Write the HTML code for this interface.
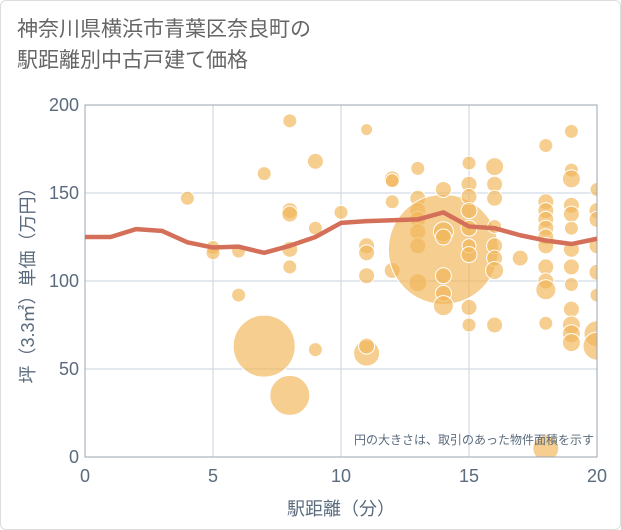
<!DOCTYPE html>
<html><head><meta charset="utf-8"><style>
body{margin:0;background:#fff;font-family:"Liberation Sans","Noto Sans CJK JP",sans-serif}
#wrap{position:relative;width:621px;height:530px;background:#fff;border:1px solid #ddd;box-sizing:border-box;border-radius:6px;overflow:hidden}
.title{position:absolute;left:16px;top:13px;font-size:21px;line-height:31px;color:#666}
</style></head><body>
<div id="wrap">
<div class="title">神奈川県横浜市青葉区奈良町の<br>駅距離別中古戸建て価格</div>
<svg id="chart" width="621" height="530" style="position:absolute;left:0;top:0"><defs><clipPath id="pc"><rect x="84" y="104" width="512" height="352"/></clipPath></defs><g id="bubs" clip-path="url(#pc)"></g></svg>
</div>
<script>
const xTicks=[0,5,10,15,20];
const yTicks=[0,50,100,150,200];
const lineX=[0,1,2,3,4,5,6,7,8,9,10,11,12,13,14,15,16,17,18,19,20];
const lineY=[125,125,129.5,128.5,122,119,119.5,116,120,125,133,134,134.5,135,139,131,130,126,123,121,124];
const bubX=[4,5,5,6,6,7,7,8,8,8,8,8,8,9,9,9,10,11,11,11,11,11,11,12,12,12,12,13,13,13,13,13,13,13,14,14,14,14,14,14,14,15,15,15,15,15,15,15,15,15,16,16,16,16,16,16,16,16,17,18,18,18,18,18,18,18,18,18,18,18,18,19,19,19,19,19,19,19,19,19,19,19,19,19,20,20,20,20,20,20,20,20];
const bubY=[147,119,116,117,92,161,63,191,140,138,118,108,35,168,130,61,139,186,120,116,103,59,63,158,157,145,106,164,147,140,135,128,120,99,118,152,128,125,103,93,86,167,155,148,140,130,120,115,85,75,165,155,147,131,120,113,106,75,113,177,145,140,135,130,125,120,108,100,95,76,5,185,163,158,143,138,130,118,108,98,84,75,70,65,152,140,135,120,105,92,70,63];
const bubR=[7,7,7,7,7,7,31,7,8,8,8,7,20,8,7,7,7,6,8,8,8,13,8,8,7,7,8,7,8,8,8,8,8,9,55,8,10,8,8,8,10,7,8,8,8,8,7,8,8,7,9,8,8,7,8,8,9,8,8,7,8,8,8,8,8,8,8,8,10,7,13,7,7,9,8,8,7,8,8,7,8,9,9,9,7,8,8,8,8,7,13,14];
const NS="http://www.w3.org/2000/svg";
const svg=document.getElementById('chart');
const bg=document.getElementById('bubs');
const L=84,R=596,T=104,B=456;
const sx=v=>L+(v-0)/20*(R-L);
const sy=v=>B-(v/200)*(B-T);
function mk(t,a,par){const e=document.createElementNS(NS,t);for(const k in a)e.setAttribute(k,a[k]);(par||svg).appendChild(e);return e;}
xTicks.forEach(v=>{const g=mk('line',{x1:sx(v),x2:sx(v),y1:T,y2:B,stroke:'#c8d3df','stroke-width':1});

const t=mk('text',{x:sx(v),y:B+25,'text-anchor':'middle','font-size':18,fill:'#5a6b7d'});t.textContent=v;
});
yTicks.forEach(v=>{const g=mk('line',{x1:L,x2:R,y1:sy(v),y2:sy(v),stroke:'#c8d3df','stroke-width':1});

const t=mk('text',{x:L-6,y:sy(v)+6,'text-anchor':'end','font-size':18,fill:'#5a6b7d'});t.textContent=v;
});
svg.appendChild(bg);
bubX.forEach((x,i)=>{const c=mk('circle',{cx:sx(x),cy:sy(bubY[i]),r:bubR[i],fill:'rgba(242,183,90,0.68)',stroke:'#fff','stroke-width':1},bg);
});
const fr=mk('rect',{x:L,y:T,width:R-L,height:B-T,fill:'none',stroke:'#9aa5b1','stroke-width':1});

const p=mk('polyline',{points:lineX.map((x,i)=>sx(x)+','+sy(lineY[i])).join(' '),fill:'none',stroke:'#d4705a','stroke-width':4.5,'stroke-linejoin':'round'});

const n=mk('text',{x:593,y:443,'text-anchor':'end','font-size':12,fill:'#5a6b7d'});n.textContent='円の大きさは、取引のあった物件面積を示す';

const xt=mk('text',{x:(L+R)/2,y:514,'text-anchor':'middle','font-size':18,fill:'#5a6b7d'});xt.textContent='駅距離（分）';

const yt=mk('text',{x:0,y:0,'text-anchor':'middle','font-size':18,fill:'#5a6b7d',transform:'translate(33,'+((T+B)/2)+') rotate(-90)'});yt.textContent='坪（3.3㎡）単価（万円）';

</script>
</body></html>
